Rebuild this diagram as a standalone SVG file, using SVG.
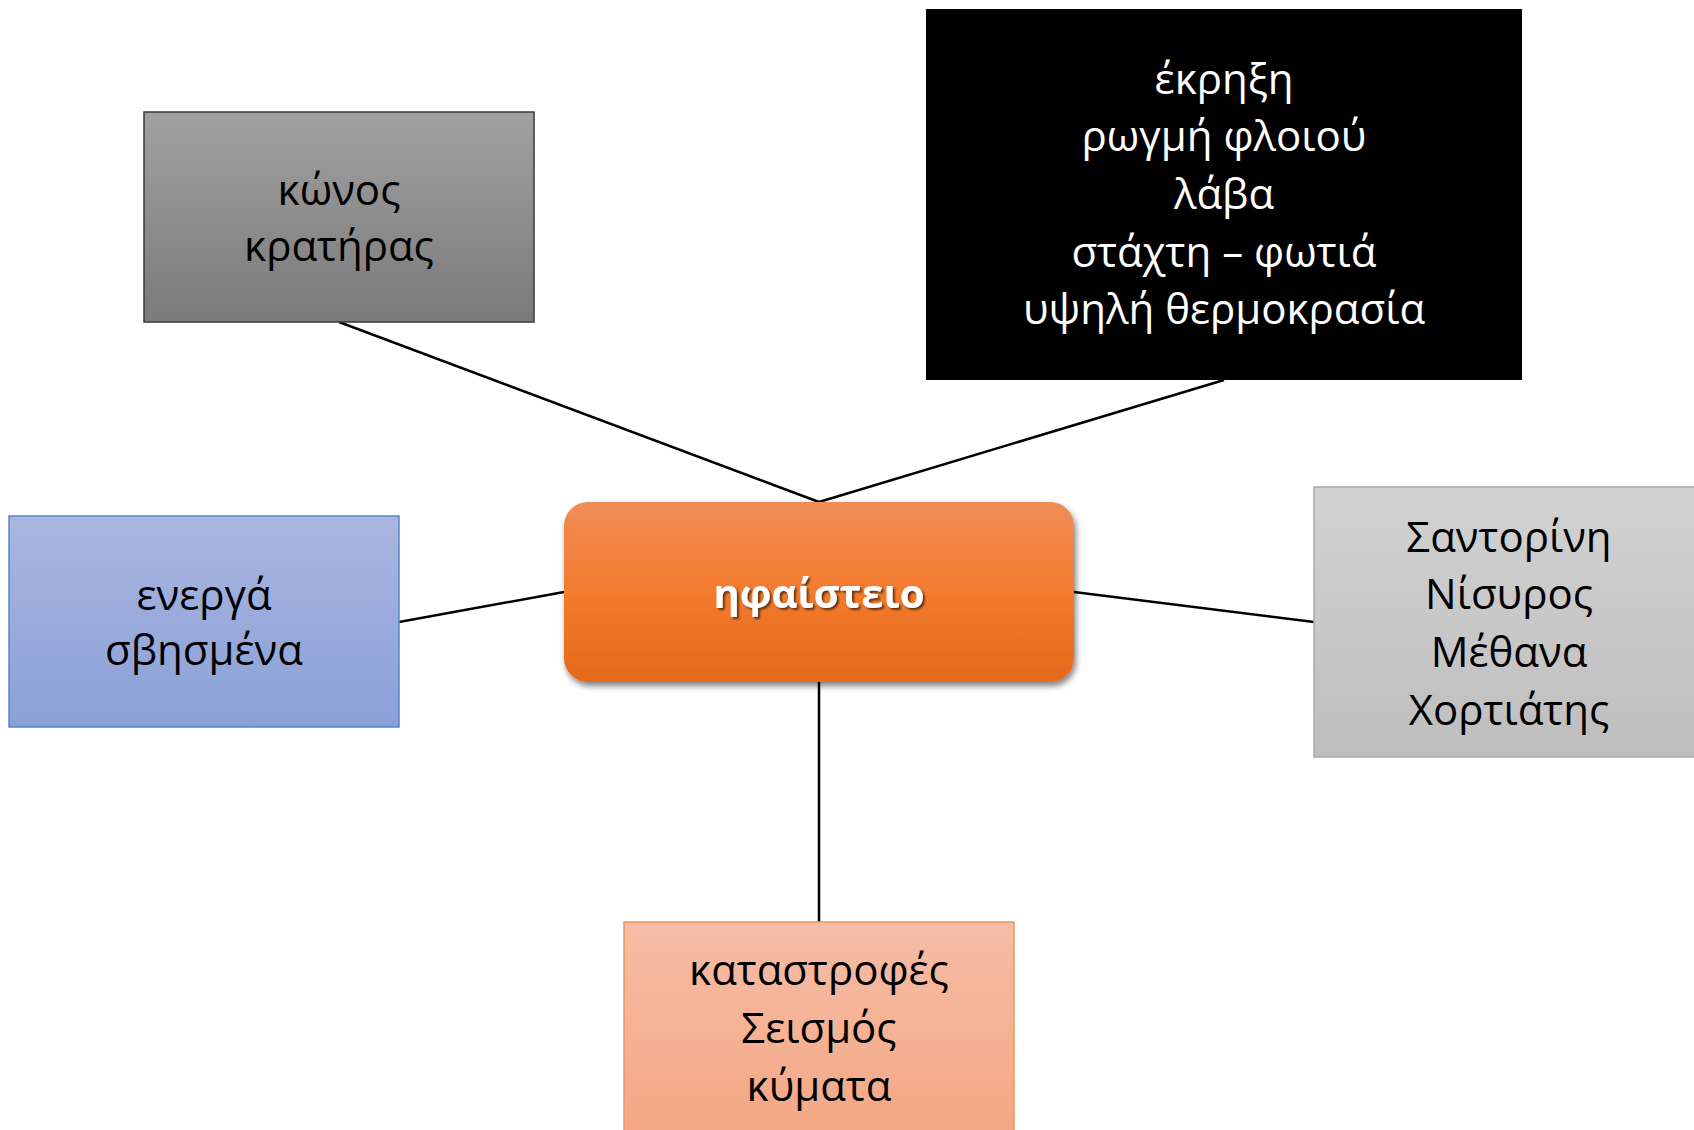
<svg xmlns="http://www.w3.org/2000/svg" width="1694" height="1130" viewBox="0 0 1694 1130">
<style>
.t{font-family:"Open Sans","Noto Sans","DejaVu Sans",sans-serif;font-size:42px;text-anchor:middle;fill:#000}
.w{fill:#fff}
.c{stroke:#000;stroke-width:2.5;fill:none}
.hub{font-family:"Open Sans","Noto Sans","DejaVu Sans",sans-serif;font-size:40px;font-weight:bold;text-anchor:middle;fill:#fff}
</style>
<defs>
<linearGradient id="gGray" x1="0" y1="0" x2="0" y2="1"><stop offset="0" stop-color="#A1A1A1"/><stop offset="1" stop-color="#7A7A7A"/></linearGradient>
<linearGradient id="gBlue" x1="0" y1="0" x2="0" y2="1"><stop offset="0" stop-color="#A9B6E0"/><stop offset="1" stop-color="#8AA0D8"/></linearGradient>
<linearGradient id="gLight" x1="0" y1="0" x2="0" y2="1"><stop offset="0" stop-color="#D2D2D2"/><stop offset="1" stop-color="#BEBEBE"/></linearGradient>
<linearGradient id="gSalmon" x1="0" y1="0" x2="0" y2="1"><stop offset="0" stop-color="#F6BDA6"/><stop offset="1" stop-color="#F4A683"/></linearGradient>
<linearGradient id="gOrange" x1="0" y1="0" x2="0" y2="1"><stop offset="0" stop-color="#F08C58"/><stop offset="0.5" stop-color="#F47B2D"/><stop offset="1" stop-color="#E4691A"/></linearGradient>
<filter id="shadow" x="-10%" y="-20%" width="120%" height="150%"><feGaussianBlur in="SourceAlpha" stdDeviation="3"/><feOffset dx="2" dy="4" result="b"/><feComponentTransfer><feFuncA type="linear" slope="0.5"/></feComponentTransfer><feMerge><feMergeNode/><feMergeNode in="SourceGraphic"/></feMerge></filter>
<filter id="tshadow" x="-10%" y="-30%" width="120%" height="160%"><feGaussianBlur in="SourceAlpha" stdDeviation="1"/><feOffset dx="2" dy="2"/><feComponentTransfer><feFuncA type="linear" slope="0.6"/></feComponentTransfer><feMerge><feMergeNode/><feMergeNode in="SourceGraphic"/></feMerge></filter>
</defs>
<rect width="1694" height="1130" fill="#fff"/>
<g id="connectors">
<line class="c" x1="339" y1="322" x2="819" y2="502"/>
<line class="c" x1="1224" y1="380" x2="819" y2="502"/>
<line class="c" x1="399" y1="622" x2="564" y2="592"/>
<line class="c" x1="1074" y1="592" x2="1314" y2="622"/>
<line class="c" x1="819" y1="682" x2="819" y2="922"/>
</g>
<g id="node-konos">
<rect x="144" y="112" width="390" height="210" fill="url(#gGray)" stroke="#3A3A3A" stroke-width="1.5"/>
<text class="t" x="339" y="205">κώνος</text>
<text class="t" x="339" y="261">κρατήρας</text>
</g>
<g id="node-ekrixi">
<rect x="926" y="9" width="596" height="371" fill="#000"/>
<text class="t w" x="1224" y="94">έκρηξη</text>
<text class="t w" x="1224" y="151">ρωγμή φλοιού</text>
<text class="t w" x="1224" y="209">λάβα</text>
<text class="t w" x="1224" y="267">στάχτη – φωτιά</text>
<text class="t w" x="1224" y="324">υψηλή θερμοκρασία</text>
</g>
<g id="node-energa">
<rect x="9" y="516" width="390" height="211" fill="url(#gBlue)" stroke="#5B84CC" stroke-width="1.5"/>
<text class="t" x="204" y="610">ενεργά</text>
<text class="t" x="204" y="665">σβησμένα</text>
</g>
<g id="node-places">
<rect x="1314" y="487" width="400" height="270" fill="url(#gLight)" stroke="#A9A9A9" stroke-width="1.5"/>
<text class="t" x="1509" y="552">Σαντορίνη</text>
<text class="t" x="1509" y="609">Νίσυρος</text>
<text class="t" x="1509" y="667">Μέθανα</text>
<text class="t" x="1509" y="725">Χορτιάτης</text>
</g>
<g id="node-katastrofes">
<rect x="624" y="922" width="390" height="220" fill="url(#gSalmon)" stroke="#F0935A" stroke-width="1.5"/>
<text class="t" x="819" y="985">καταστροφές</text>
<text class="t" x="819" y="1043">Σεισμός</text>
<text class="t" x="819" y="1101">κύματα</text>
</g>
<g id="node-hub">
<rect x="564" y="502" width="510" height="180" rx="24" ry="24" fill="url(#gOrange)" filter="url(#shadow)"/>
<text class="hub" x="819" y="608" filter="url(#tshadow)">ηφαίστειο</text>
</g>
</svg>
